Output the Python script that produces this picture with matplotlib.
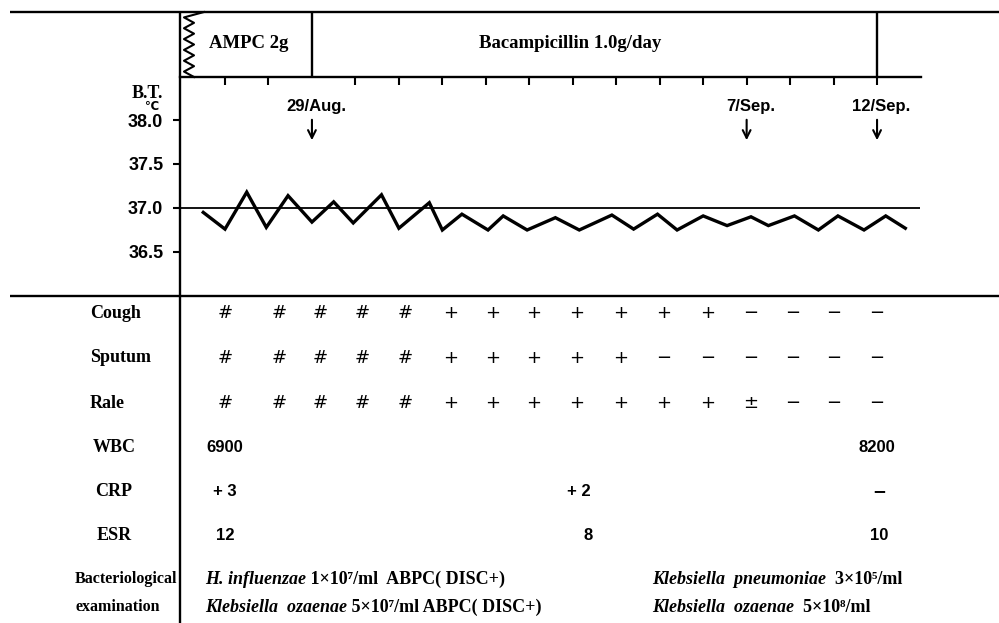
import matplotlib
matplotlib.use("Agg")
import matplotlib.pyplot as plt
import numpy as np

# x unit = one tick step on the chart (day index), 29/Aug. = 2
temp_x = [-0.5, 0.0, 0.5, 0.95, 1.45, 2.0, 2.5, 2.95, 3.6, 4.0,
          4.7, 5.0, 5.45, 6.05, 6.4, 6.95, 7.6, 8.15, 8.9, 9.4,
          9.95, 10.4, 11.0, 11.55, 12.1, 12.5, 13.1, 13.65, 14.1, 14.7,
          15.2, 15.65]
temp_y = [36.95, 36.76, 37.18, 36.78, 37.14, 36.84, 37.07, 36.83, 37.15, 36.77,
          37.06, 36.75, 36.93, 36.75, 36.91, 36.75, 36.89, 36.75, 36.92, 36.76,
          36.93, 36.75, 36.91, 36.80, 36.90, 36.80, 36.91, 36.75, 36.91, 36.75,
          36.91, 36.77]
temp_ticks = [36.5, 37.0, 37.5, 38.0]
day_ticks = [0, 1, 3, 4, 5, 6, 7, 8, 9, 10, 11, 12, 13, 14, 15]

drug_names = ["AMPC 2g", "Bacampicillin 1.0g/day"]
drug_start = [-1.03, 2]
drug_end = [2, 15]
drug_label_x = [0.55, 7.95]

dates = ["29/Aug.", "7/Sep.", "12/Sep."]
date_x = [2, 12, 15]

col_x = [0, 1.25, 2.2, 3.15, 4.15, 5.2, 6.15, 7.1, 8.1, 9.1, 10.1, 11.1, 12.1, 13.05, 14, 15]
cough = ["#", "#", "#", "#", "#", "+", "+", "+", "+", "+", "+", "+", "−", "−", "−", "−"]
sputum = ["#", "#", "#", "#", "#", "+", "+", "+", "+", "+", "−", "−", "−", "−", "−", "−"]
rale = ["#", "#", "#", "#", "#", "+", "+", "+", "+", "+", "+", "+", "±", "−", "−", "−"]

wbc_x = [0, 15]
wbc = ["6900", "8200"]
crp_x = [0, 8.15, 15.05]
crp = ["+ 3", "+ 2", "−"]
esr_x = [0, 8.35, 15.05]
esr = ["12", "8", "10"]

bact_x = [-0.46, 9.82]
bact_line1 = [("H. influenzae", " 1×10⁷/ml  ABPC( DISC+)"),
              ("Klebsiella  pneumoniae", "  3×10⁵/ml")]
bact_line2 = [("Klebsiella  ozaenae", " 5×10⁷/ml ABPC( DISC+)"),
              ("Klebsiella  ozaenae", "  5×10⁸/ml")]


def px(x):
    # pixel column -> day units
    return (x - 225) / 43.47


W, H = 999, 623
SERIF = ["Liberation Serif", "DejaVu Serif"]
SANS = ["Liberation Sans", "DejaVu Sans"]

fig = plt.figure(figsize=(W / 100, H / 100), dpi=100)

# overlay axes: x in day units, y in pixel rows
ax = fig.add_axes([0, 0, 1, 1])
ax.set_xlim(px(0), px(W))
ax.set_ylim(H, 0)
ax.axis("off")

lw = 1.7
ax.hlines([12, 296], px(10), px(W), color="black", lw=lw)
ax.vlines(px(180), 12, H, color="black", lw=lw)

# drug bands
for name, s, e, lx in zip(drug_names, drug_start, drug_end, drug_label_x):
    ax.vlines(e, 12, 77, color="black", lw=lw)
    ax.text(lx, 44, name, ha="center", va="center", fontsize=13.5,
            fontweight="bold", family=SERIF)
zig_y = np.linspace(12, 77, 13)
zig_px = np.where(np.arange(13) % 2 == 0, 194, 184).astype(float)
zig_px[0] = 204
ax.plot(px(zig_px), zig_y, color="black", lw=1.5)

# B.T. label
ax.text(px(147), 93, "B.T.", ha="center", va="center", fontsize=13,
        fontweight="bold", family=SERIF)
ax.text(px(152), 107, "℃", ha="center", va="center", fontsize=8.5,
        fontweight="bold", family=["DejaVu Sans"])

# date markers
for d, x in zip(dates, date_x):
    ax.text(x + 0.1, 107, d, ha="center", va="center", fontsize=12,
            fontweight="bold", family=SANS)
    ax.annotate("", xy=(x, 143), xytext=(x, 117),
                arrowprops=dict(arrowstyle="->", lw=1.5, color="black",
                                mutation_scale=14))

# temperature axes
ax_t = fig.add_axes([180 / W, (H - 296) / H, (W - 180) / W, (296 - 77) / H])
ax_t.set_zorder(2)
ax_t.patch.set_alpha(0)
ax_t.set_xlim(px(180), px(W))
ax_t.set_ylim(38 - (296 - 120) / 88, 38 + (120 - 77) / 88)
for side in ["left", "right", "bottom"]:
    ax_t.spines[side].set_visible(False)
ax_t.spines["top"].set_linewidth(lw)
ax_t.spines["top"].set_bounds(px(180), px(921))
ax_t.xaxis.set_ticks_position("top")
ax_t.set_xticks(day_ticks)
ax_t.tick_params(axis="x", direction="in", length=6, width=1.5, labeltop=False)
ax_t.set_yticks(temp_ticks)
ax_t.set_yticklabels([f"{t:.1f}" for t in temp_ticks])
ax_t.tick_params(axis="y", direction="out", length=5, width=1.5, pad=7)
for lab in ax_t.get_yticklabels():
    lab.set_fontsize(13)
    lab.set_fontweight("bold")
    lab.set_family(SANS)
ax_t.hlines(37.0, px(180), px(920), color="black", lw=1.3)
ax_t.plot(temp_x, temp_y, color="black", lw=2.4, solid_joinstyle="miter")

# symptom / lab rows
row_labels = ["Cough", "Sputum", "Rale", "WBC", "CRP", "ESR"]
row_y = [313, 358, 403, 447, 491, 535]
for i, (lab, y) in enumerate(zip(row_labels, row_y)):
    if i < 3:
        ax.text(px(90), y, lab, ha="left", va="center", fontsize=13,
                fontweight="bold", family=SERIF)
    else:
        ax.text(px(114), y, lab, ha="center", va="center", fontsize=13,
                fontweight="bold", family=SERIF)

for row, y in zip([cough, sputum, rale], row_y[:3]):
    for x, s in zip(col_x, row):
        ax.text(x, y, s, ha="center", va="center", fontsize=13,
                family=["DejaVu Sans"])

for xs, vals, y in zip([wbc_x, crp_x, esr_x], [wbc, crp, esr], row_y[3:]):
    for x, v in zip(xs, vals):
        fam = ["DejaVu Sans"] if v == "−" else SANS
        ax.text(x, y, v, ha="center", va="center", fontsize=12,
                fontweight="bold", family=fam)

# bacteriological examination
ax.text(px(75), 579, "Bacteriological", ha="left", va="center", fontsize=11.5,
        fontweight="bold", family=SERIF)
ax.text(px(75), 607, "examination", ha="left", va="center", fontsize=11.5,
        fontweight="bold", family=SERIF)
for line, y in zip([bact_line1, bact_line2], [584, 612]):
    for x, (sp, rest) in zip(bact_x, line):
        t = ax.text(x, y, sp, ha="left", va="baseline", fontsize=13,
                    fontweight="bold", style="italic", family=SERIF)
        ax.annotate(rest, xy=(1, y), xycoords=(t, "data"), ha="left",
                    va="baseline", fontsize=13, fontweight="bold", family=SERIF)

fig.savefig("out.png", dpi=100)
